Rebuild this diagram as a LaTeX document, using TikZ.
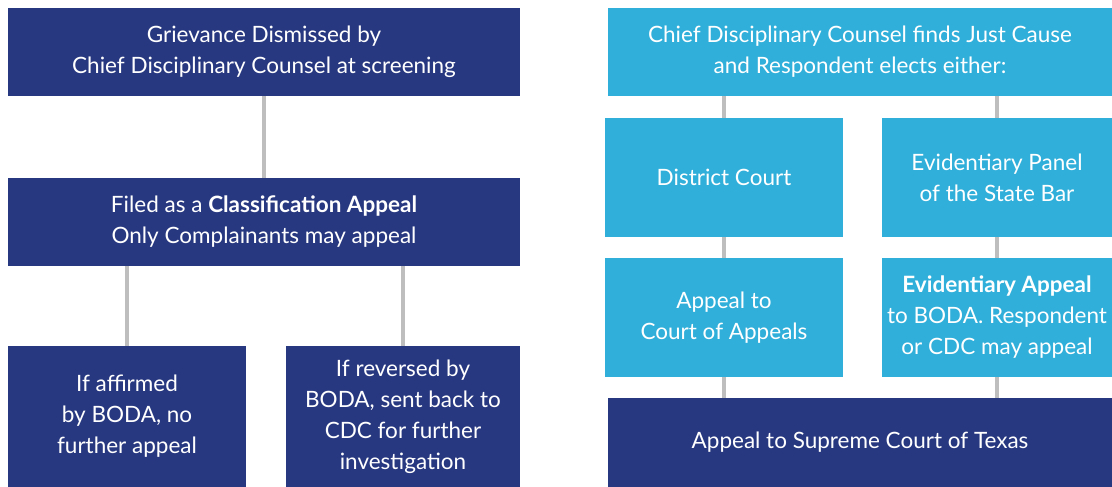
\documentclass[tikz,border=0pt]{standalone}
\usepackage{fontspec}
\setmainfont{Lato}
\usetikzlibrary{positioning}
\definecolor{navy}{RGB}{40,56,128}
\definecolor{sky}{RGB}{48,175,218}
\definecolor{linkgray}{RGB}{190,190,190}

\begin{document}
\begin{tikzpicture}[x=1pt, y=-1pt,
		every box/.style={rectangle, text=white, align=center, inner sep=0pt, font=\fontsize{22.5}{31}\selectfont},
		dark box/.style={every box, fill=navy},
		light box/.style={every box, fill=sky},
		link/.style={draw=linkgray, line width=4.5pt}]
		
		\useasboundingbox (0,0) rectangle (1112,487);
		
		% left side
		\node [dark box, minimum width=512, minimum height=88] (left-1) at (264,52) {Grievance Dismissed by\\Chief Disciplinary Counsel at screening};
		\node [dark box, minimum width=512, minimum height=88] (left-2) at (264,222) {Filed as a \textbf{Classification Appeal}\\Only Complainants may appeal};
		\node [dark box, minimum width=238, minimum height=141] (left-3) at (127,416.5) {If affirmed\\by BODA, no\\further appeal};
		\node [dark box, minimum width=234, minimum height=141] (left-4) at (403,416.5) {If reversed by\\BODA, sent back to\\CDC for further\\investigation};
		
		% right side
		\node [light box, minimum width=504, minimum height=88] (right-1) at (860,52) {Chief Disciplinary Counsel finds Just Cause\\and Respondent elects either:};
		\node [light box, minimum width=238, minimum height=119] (right-2) at (724,177.5) {District Court};
		\node [light box, minimum width=230, minimum height=119] (right-3) at (997,177.5) {Evidentiary Panel\\of the State Bar};
		\node [light box, minimum width=238, minimum height=119] (right-4) at (724,317.5) {Appeal to\\Court of Appeals};
		\node [light box, minimum width=230, minimum height=119] (right-5) at (997,317.5) {\textbf{Evidentiary Appeal}\\to BODA. Respondent\\or CDC may appeal};
		\node [dark box, minimum width=504, minimum height=89] (right-6) at (860,442.5) {Appeal to Supreme Court of Texas};
		
		\foreach \a/\b in {2/1,3/2,4/2}
		\draw [link] (left-\a.north) -- (left-\a.north |- left-\b.south);
		
		\foreach \a/\b in {2/1,3/1,4/2,5/3}
		\draw [link] (right-\a.north) -- (right-\a.north |- right-\b.south);
		
		\foreach \a in {4,5}
		\draw [link] (right-\a.south) -- (right-\a.south |- right-6.north);
		
\end{tikzpicture}
\end{document}
